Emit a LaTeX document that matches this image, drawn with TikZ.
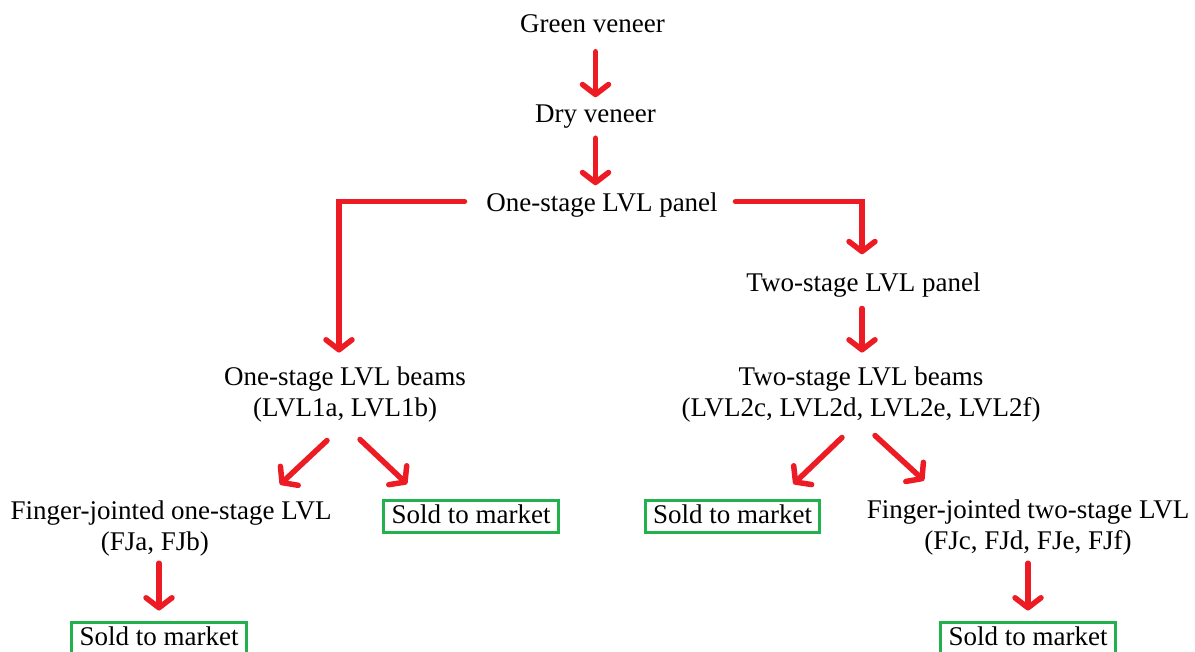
\documentclass[tikz,border=0pt]{standalone}
\usepackage{fontspec}
\setmainfont{Liberation Serif}
\usepackage{tikz}
\usetikzlibrary{arrows.meta}
\definecolor{flowred}{RGB}{237,28,36}
\definecolor{boxgreen}{RGB}{34,177,76}

\begin{document}
\begin{tikzpicture}[x=1pt,y=-1pt,line width=5.5pt,>={Straight Barb[length=10pt,width=26pt,round]}]
		\tikzstyle{every node}=[font=\fontsize{27}{31}\selectfont,inner sep=0pt,anchor=base,align=center]
		\tikzstyle{stage}=[text height=19pt,text depth=6pt]
		\tikzstyle{market}=[stage,draw=boxgreen,line width=3pt,inner xsep=8pt,inner ysep=3.5pt]
		\tikzstyle{flow}=[->,color=flowred,line cap=round]
		
		\useasboundingbox (0,0) rectangle (1195,652);
		
		\node[stage] (green) at (592.5,33) {Green veneer};
		\node[stage] (dry) at (595.5,123) {Dry veneer};
		\node[stage] (panel_1) at (602,212) {One-stage LVL panel};
		\node[stage] (panel_2) at (863.5,292) {Two-stage LVL panel};
		\node (beams_1) at (345,417) {One-stage LVL beams\\(LVL1a, LVL1b)};
		\node (beams_2) at (861,417) {Two-stage LVL beams\\(LVL2c, LVL2d, LVL2e, LVL2f)};
		\node (fj_1) at (171,550) {Finger-jointed one-stage LVL\\(FJa, FJb)\hspace*{32pt}};
		\node (fj_2) at (1028,549) {Finger-jointed two-stage LVL\\(FJc, FJd, FJe, FJf)};
		\node[market] (sold_1) at (471,523) {Sold to market};
		\node[market] (sold_2) at (732.5,523) {Sold to market};
		\node[market] (sold_3) at (159,645) {Sold to market};
		\node[market] (sold_4) at (1028,645) {Sold to market};
		
		
		\path[flow]
		(dry.north |- green.south) edge [shorten <=10pt,shorten >=4pt] (dry.north)
		(dry.south) edge [shorten <=6.5pt,shorten >=5pt] (dry.south |- panel_1.north)
		([xshift=-1.5pt]panel_2.south) edge [shorten <=7.75pt,shorten >=12pt] ([xshift=-1.5pt]panel_2.south |- beams_2.north)
		(sold_3.north |- fj_1.south) edge [shorten <=4.75pt,shorten >=10.5pt] (sold_3.north)
		(sold_4.north |- fj_2.south) edge [shorten <=5.75pt,shorten >=10.5pt] (sold_4.north);
		
		% panel branches
		\draw[flow,shorten <=19pt,shorten >=12pt] ([yshift=4pt]panel_1.west) -| ([xshift=-6pt]beams_1.north);
		\draw[flow,shorten <=15pt,shorten >=16pt] ([yshift=4pt]panel_1.east) -| ([xshift=-1.5pt]panel_2.north);
		
		% beam branches
		\draw[flow] ([xshift=-18pt,yshift=-15pt]beams_1.south) -- ([xshift=109pt,yshift=13pt]fj_1.north);
		\draw[flow] ([xshift=15pt,yshift=-14pt]beams_1.south) -- ([xshift=25pt,yshift=15pt]sold_1.north west);
		\draw[flow] ([xshift=-19pt,yshift=-12pt]beams_2.south) -- ([xshift=-28pt,yshift=15pt]sold_2.north east);
		\draw[flow] ([xshift=14pt,yshift=-10pt]beams_2.south) -- ([xshift=-104pt,yshift=16pt]fj_2.north);

\end{tikzpicture}
\end{document}
